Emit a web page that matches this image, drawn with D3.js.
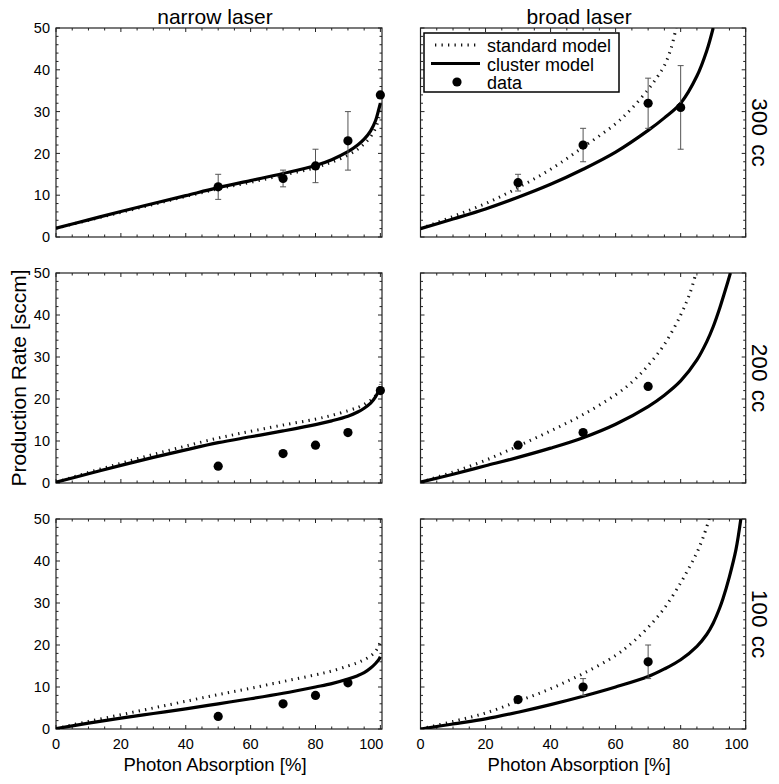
<!DOCTYPE html>
<html><head><meta charset="utf-8">
<script src="https://cdn.jsdelivr.net/npm/d3@7"></script>
<style>
html,body{margin:0;padding:0;background:#fff;}
text{font-family:"Liberation Sans",Arial,sans-serif;fill:#000;}
</style></head>
<body><svg id="chart" width="779" height="784"></svg>
<script>
// ---------- data ----------
const columnTitles = ["narrow laser", "broad laser"];
const rowLabels = ["300 cc", "200 cc", "100 cc"];
const absorptionTicks = [0, 20, 40, 60, 80, 100];
const rateTicks = [0, 10, 20, 30, 40, 50];
const legendLabels = ["standard model", "cluster model", "data"];

// narrow laser model curves (shared absorption grid)
const narrowX = [0,10,20,30,40,50,60,70,80,85,90,93,95,97,98.5,99.5,100];
const narrow300Cluster  = [2.1,4.1,6.1,8.0,9.9,11.8,13.5,15.2,17.1,18.5,20.4,22.0,23.4,25.4,27.8,30.5,32.0];
const narrow300Standard = [2.1,4.0,5.9,7.8,9.7,11.5,13.1,14.8,16.6,17.9,19.6,21.0,22.3,24.0,26.0,28.5,30.5];
const narrow200Cluster  = [0.2,2.2,4.2,6.1,7.9,9.6,11.0,12.4,13.9,14.8,15.9,16.9,17.8,19.0,20.5,22.0,23.0];
const narrow200Standard = [0.2,2.5,4.7,6.8,8.8,10.7,12.3,13.8,15.2,16.1,17.2,18.0,18.7,19.7,20.8,22.2,23.5];
const narrow100Cluster  = [0.1,1.4,2.6,3.7,4.8,6.0,7.2,8.5,10.0,10.8,11.9,12.7,13.4,14.5,15.6,16.5,17.2];
const narrow100Standard = [0.1,1.8,3.4,5.0,6.6,8.2,9.7,11.3,12.9,13.8,15.0,15.8,16.5,17.4,18.5,19.8,20.8];

// broad laser model curves
const broad300ClusterX  = [0,10,20,30,40,50,60,70,75,80,85,88,90];
const broad300Cluster   = [2.0,4.3,6.7,9.5,12.6,16.2,20.3,25.5,28.5,32.0,38.5,44.5,50];
const broad300StandardX = [0,10,20,30,40,50,60,65,70,73,75,77,78.6];
const broad300Standard  = [2.0,4.9,8.0,11.8,16.2,21.5,27.1,30.8,35.3,38.5,41.0,45.0,50];
const broad200ClusterX  = [0,10,20,30,40,50,60,70,75,80,85,88,90,92,94,95.3];
const broad200Cluster   = [0.2,2.1,4.1,6.1,8.3,10.8,14.0,18.2,20.9,24.3,29.3,33.6,37.2,41.6,46.6,50];
const broad200StandardX = [0,10,20,30,40,50,60,65,70,75,80,83,84.7];
const broad200Standard  = [0.2,2.6,5.4,8.8,12.4,16.3,21.0,24.0,28.0,33.0,40.0,45.5,50];
const broad100ClusterX  = [0,10,20,30,40,50,60,70,75,80,85,88,90,92,93,95,97,98.5];
const broad100Cluster   = [0,1.2,2.4,4.0,5.8,7.8,10.0,12.5,14.3,16.5,19.7,22.5,25.2,28.8,31.0,36.3,42.7,50];
const broad100StandardX = [0,10,20,30,40,50,60,65,70,75,80,83,85,87,88.8];
const broad100Standard  = [0,1.8,3.8,6.6,9.6,13.2,17.5,20.5,24.2,28.8,34.8,39.0,42.0,45.8,50];

// measured data
const narrow300DataX = [50,70,80,90,100];
const narrow300Data  = [12,14,17,23,34];
const narrow300Low   = [9,12,13,16,null];
const narrow300High  = [15,16,21,30,null];
const narrow200DataX = [50,70,80,90,100];
const narrow200Data  = [4,7,9,12,22];
const narrow100DataX = [50,70,80,90];
const narrow100Data  = [3,6,8,11];
const broad300DataX = [30,50,70,80];
const broad300Data  = [13,22,32,31];
const broad300Low   = [11,18,26,21];
const broad300High  = [15,26,38,41];
const broad200DataX = [30,50,70];
const broad200Data  = [9,12,23];
const broad100DataX = [30,50,70];
const broad100Data  = [7,10,16];
const broad100Low   = [null,8,12];
const broad100High  = [null,12,20];

// ---------- layout ----------
const colX = [[56, 382], [420.5, 745.7]];
const colDomain = [100.5, 100];
const rowY = [[28, 237], [273, 483], [519, 729]];

const zip = (xs, ys) => xs.map((x, i) => ({x, y: ys[i]}));
const panels = [
  {r:0,c:0, cluster: zip(narrowX, narrow300Cluster), standard: zip(narrowX, narrow300Standard),
   data: narrow300DataX.map((x,i)=>({x, y:narrow300Data[i], lo:narrow300Low[i], hi:narrow300High[i]}))},
  {r:0,c:1, cluster: zip(broad300ClusterX, broad300Cluster), standard: zip(broad300StandardX, broad300Standard),
   data: broad300DataX.map((x,i)=>({x, y:broad300Data[i], lo:broad300Low[i], hi:broad300High[i]})), legend:true},
  {r:1,c:0, cluster: zip(narrowX, narrow200Cluster), standard: zip(narrowX, narrow200Standard),
   data: narrow200DataX.map((x,i)=>({x, y:narrow200Data[i]}))},
  {r:1,c:1, cluster: zip(broad200ClusterX, broad200Cluster), standard: zip(broad200StandardX, broad200Standard),
   data: broad200DataX.map((x,i)=>({x, y:broad200Data[i]}))},
  {r:2,c:0, cluster: zip(narrowX, narrow100Cluster), standard: zip(narrowX, narrow100Standard),
   data: narrow100DataX.map((x,i)=>({x, y:narrow100Data[i]}))},
  {r:2,c:1, cluster: zip(broad100ClusterX, broad100Cluster), standard: zip(broad100StandardX, broad100Standard),
   data: broad100DataX.map((x,i)=>({x, y:broad100Data[i], lo:broad100Low[i], hi:broad100High[i]}))}
];

const svg = d3.select("#chart");
const defs = svg.append("defs");
const DOT = "1.3 5.2";

panels.forEach((p, idx) => {
  const [x0, x1] = colX[p.c];
  const [y0, y1] = rowY[p.r];
  const x = d3.scaleLinear().domain([0, colDomain[p.c]]).range([x0, x1]);
  const y = d3.scaleLinear().domain([0, 50]).range([y1, y0]);
  const g = svg.append("g");

  defs.append("clipPath").attr("id", "clip" + idx)
    .append("rect").attr("x", x0).attr("y", y0).attr("width", x1 - x0).attr("height", y1 - y0);

  // ticks (inside, all four sides)
  const tickG = g.append("g").attr("stroke", "#222").attr("stroke-width", 1);
  const xMinor = d3.range(5, 100, 5).filter(v => v % 20 !== 0);
  const yMinor = d3.range(2, 50, 2).filter(v => v % 10 !== 0);
  absorptionTicks.forEach(v => {
    tickG.append("line").attr("x1", x(v)).attr("x2", x(v)).attr("y1", y1).attr("y2", y1 - 4);
    tickG.append("line").attr("x1", x(v)).attr("x2", x(v)).attr("y1", y0).attr("y2", y0 + 4);
  });
  xMinor.forEach(v => {
    tickG.append("line").attr("x1", x(v)).attr("x2", x(v)).attr("y1", y1).attr("y2", y1 - 2.5);
    tickG.append("line").attr("x1", x(v)).attr("x2", x(v)).attr("y1", y0).attr("y2", y0 + 2.5);
  });
  rateTicks.forEach(v => {
    tickG.append("line").attr("x1", x0).attr("x2", x0 + 4).attr("y1", y(v)).attr("y2", y(v));
    tickG.append("line").attr("x1", x1).attr("x2", x1 - 4).attr("y1", y(v)).attr("y2", y(v));
  });
  yMinor.forEach(v => {
    tickG.append("line").attr("x1", x0).attr("x2", x0 + 2.5).attr("y1", y(v)).attr("y2", y(v));
    tickG.append("line").attr("x1", x1).attr("x2", x1 - 2.5).attr("y1", y(v)).attr("y2", y(v));
  });

  // frame
  g.append("rect").attr("x", x0).attr("y", y0).attr("width", x1 - x0).attr("height", y1 - y0)
    .attr("fill", "none").attr("stroke", "#222").attr("stroke-width", 1.2);

  // tick labels
  if (p.c === 0) {
    rateTicks.forEach(v => {
      g.append("text").attr("x", x0 - 6).attr("y", y(v)).attr("dy", "0.36em")
        .attr("text-anchor", "end").attr("font-size", 14.5).text(v);
    });
  }
  if (p.r === 2) {
    absorptionTicks.forEach((v, i) => {
      const last = i === absorptionTicks.length - 1;
      g.append("text").attr("x", x(v) + (last ? 3 : 0)).attr("y", y1 + 20)
        .attr("text-anchor", last ? "end" : "middle").attr("font-size", 14.5).text(v);
    });
    g.append("text").attr("x", (x0 + x1) / 2 - 4).attr("y", 771)
      .attr("text-anchor", "middle").attr("font-size", 18.5).text("Photon Absorption [%]");
  }
  if (p.r === 0) {
    g.append("text").attr("x", (x0 + x1) / 2 - 4).attr("y", 24)
      .attr("text-anchor", "middle").attr("font-size", 21).text(columnTitles[p.c]);
  }
  if (p.c === 1) {
    g.append("text").attr("transform", `translate(752,${(y0 + y1) / 2}) rotate(90)`)
      .attr("text-anchor", "middle").attr("font-size", 22.5).attr("word-spacing", 2)
      .text(rowLabels[p.r]);
  }

  // curves
  const line = d3.line().x(d => x(d.x)).y(d => y(d.y)).curve(d3.curveCatmullRom.alpha(0.5));
  const cg = g.append("g").attr("clip-path", `url(#clip${idx})`);
  cg.append("path").attr("d", line(p.standard)).attr("fill", "none")
    .attr("stroke", "#111").attr("stroke-width", 3).attr("stroke-dasharray", DOT);
  cg.append("path").attr("d", line(p.cluster)).attr("fill", "none")
    .attr("stroke", "#000").attr("stroke-width", 3.2);

  // error bars
  const eg = g.append("g").attr("stroke", "#555").attr("stroke-width", 1);
  p.data.filter(d => d.lo != null).forEach(d => {
    eg.append("line").attr("x1", x(d.x)).attr("x2", x(d.x)).attr("y1", y(d.lo)).attr("y2", y(d.hi));
    eg.append("line").attr("x1", x(d.x) - 3).attr("x2", x(d.x) + 3).attr("y1", y(d.lo)).attr("y2", y(d.lo));
    eg.append("line").attr("x1", x(d.x) - 3).attr("x2", x(d.x) + 3).attr("y1", y(d.hi)).attr("y2", y(d.hi));
  });
  // points
  g.selectAll("circle.pt").data(p.data).enter().append("circle")
    .attr("cx", d => x(d.x)).attr("cy", d => y(d.y)).attr("r", 4.6).attr("fill", "#000");

  // legend
  if (p.legend) {
    const lg = g.append("g");
    lg.append("rect").attr("x", 424).attr("y", 33).attr("width", 195).attr("height", 59)
      .attr("fill", "#fff").attr("stroke", "#000").attr("stroke-width", 1.5);
    const rowsY = [45, 63.5, 82];
    lg.append("line").attr("x1", 435).attr("x2", 478).attr("y1", rowsY[0]).attr("y2", rowsY[0])
      .attr("stroke", "#111").attr("stroke-width", 3).attr("stroke-dasharray", DOT);
    lg.append("line").attr("x1", 431).attr("x2", 480).attr("y1", rowsY[1]).attr("y2", rowsY[1])
      .attr("stroke", "#000").attr("stroke-width", 3.2);
    lg.append("circle").attr("cx", 457).attr("cy", rowsY[2]).attr("r", 4.6).attr("fill", "#000");
    legendLabels.forEach((t, i) => {
      lg.append("text").attr("x", 487).attr("y", rowsY[i] + 7).attr("font-size", 18).text(t);
    });
  }
});

// y-axis title
svg.append("text").attr("transform", "translate(26,378) rotate(-90)")
  .attr("text-anchor", "middle").attr("font-size", 21).text("Production Rate [sccm]");
</script>
</body></html>
